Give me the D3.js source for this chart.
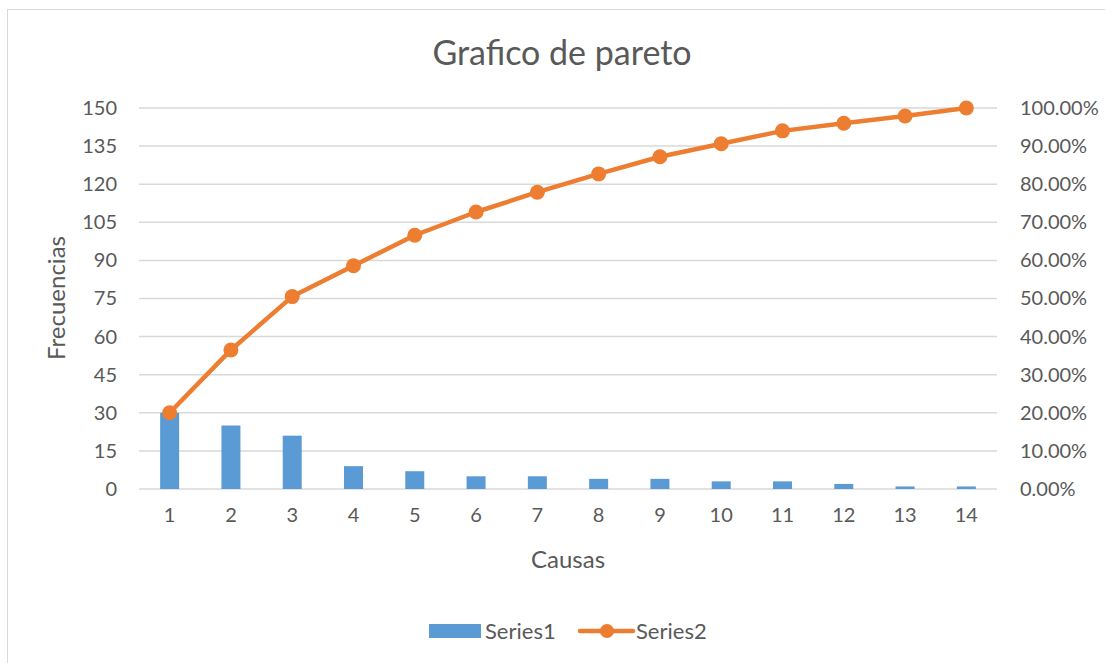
<!DOCTYPE html>
<html>
<head>
<meta charset="utf-8">
<script src="https://cdn.jsdelivr.net/npm/d3@7"></script>
<style>
  body { margin: 0; background: #fff; }
  text { font-family: Lato, "Open Sans", sans-serif; fill: #595959; }
</style>
</head>
<body>
<script>

  var causas = [1, 2, 3, 4, 5, 6, 7, 8, 9, 10, 11, 12, 13, 14];
  var series1 = [30, 25, 21, 9, 7, 5, 5, 4, 4, 3, 3, 2, 1, 1];
  var series2 = [0.20, 0.365, 0.505, 0.586, 0.666, 0.727, 0.779, 0.827, 0.872, 0.906, 0.94, 0.96, 0.979, 1.0];
  var leftTicks = [0, 15, 30, 45, 60, 75, 90, 105, 120, 135, 150];
  var rightTicks = [0, 0.1, 0.2, 0.3, 0.4, 0.5, 0.6, 0.7, 0.8, 0.9, 1.0];

  var width = 1105, height = 663;
  var plotLeft = 139, plotRight = 997, plotTop = 108, plotBottom = 489;

  var svg = d3.select("body").append("svg")
      .attr("width", width)
      .attr("height", height);

  // chart area border (runs off the right and bottom of the picture)
  svg.append("rect")
    .attr("x", 7.5).attr("y", 9.5)
    .attr("width", 1200).attr("height", 800)
    .attr("fill", "none")
    .attr("stroke", "#d9d9d9");

  var x = d3.scaleBand().domain(causas).range([plotLeft, plotRight]).paddingInner(0.69).paddingOuter(0.345);
  var y = d3.scaleLinear().domain([0, 150]).range([plotBottom, plotTop]);
  var y2 = d3.scaleLinear().domain([0, 1]).range([plotBottom, plotTop]);

  // gridlines
  svg.append("g").selectAll("line")
    .data(leftTicks)
    .enter().append("line")
      .attr("x1", plotLeft).attr("x2", plotRight)
      .attr("y1", function(d) { return y(d); })
      .attr("y2", function(d) { return y(d); })
      .attr("stroke", "#d9d9d9")
      .attr("stroke-width", 1.5);

  // left axis
  var yAxis = svg.append("g")
    .attr("transform", "translate(" + plotLeft + ",0)")
    .call(d3.axisLeft(y).tickValues(leftTicks).tickSize(0).tickPadding(22));
  yAxis.select(".domain").remove();

  // right axis
  var y2Axis = svg.append("g")
    .attr("transform", "translate(" + plotRight + ",0)")
    .call(d3.axisRight(y2).tickValues(rightTicks).tickSize(0).tickPadding(23).tickFormat(d3.format(".2%")));
  y2Axis.select(".domain").remove();

  // bottom axis
  var xAxis = svg.append("g")
    .attr("transform", "translate(0," + plotBottom + ")")
    .call(d3.axisBottom(x).tickSize(0).tickPadding(19));
  xAxis.select(".domain").remove();

  svg.selectAll(".tick text")
    .attr("font-size", 20)
    .attr("font-family", "Lato, sans-serif")
    .attr("fill", "#595959");

  // bars
  svg.append("g").selectAll("rect")
    .data(series1)
    .enter().append("rect")
      .attr("x", function(d, i) { return x(causas[i]); })
      .attr("y", function(d) { return y(d); })
      .attr("width", x.bandwidth())
      .attr("height", function(d) { return plotBottom - y(d); })
      .attr("fill", "#5b9bd5");

  // cumulative line
  var line = d3.line()
    .x(function(d, i) { return x(causas[i]) + x.bandwidth() / 2; })
    .y(function(d) { return y2(d); });

  svg.append("path")
    .datum(series2)
    .attr("d", line)
    .attr("fill", "none")
    .attr("stroke", "#ed7d31")
    .attr("stroke-width", 4.5)
    .attr("stroke-linejoin", "round");

  svg.append("g").selectAll("circle")
    .data(series2)
    .enter().append("circle")
      .attr("cx", function(d, i) { return x(causas[i]) + x.bandwidth() / 2; })
      .attr("cy", function(d) { return y2(d); })
      .attr("r", 7.5)
      .attr("fill", "#ed7d31");

  // titles
  svg.append("text")
    .attr("x", 562).attr("y", 65)
    .attr("text-anchor", "middle")
    .attr("font-size", 34)
    .text("Grafico de pareto");

  svg.append("text")
    .attr("transform", "translate(65,298) rotate(-90)")
    .attr("text-anchor", "middle")
    .attr("font-size", 24)
    .text("Frecuencias");

  svg.append("text")
    .attr("x", 568).attr("y", 568)
    .attr("text-anchor", "middle")
    .attr("font-size", 24)
    .text("Causas");

  // legend
  var legend = svg.append("g");
  legend.append("rect")
    .attr("x", 429).attr("y", 624)
    .attr("width", 52).attr("height", 14)
    .attr("fill", "#5b9bd5");
  legend.append("text")
    .attr("x", 485).attr("y", 639)
    .attr("font-size", 22)
    .text("Series1");
  legend.append("line")
    .attr("x1", 580).attr("x2", 633)
    .attr("y1", 631).attr("y2", 631)
    .attr("stroke", "#ed7d31")
    .attr("stroke-width", 4.5)
    .attr("stroke-linecap", "round");
  legend.append("circle")
    .attr("cx", 607).attr("cy", 631)
    .attr("r", 7)
    .attr("fill", "#ed7d31");
  legend.append("text")
    .attr("x", 636).attr("y", 639)
    .attr("font-size", 22)
    .text("Series2");

</script>
</body>
</html>
